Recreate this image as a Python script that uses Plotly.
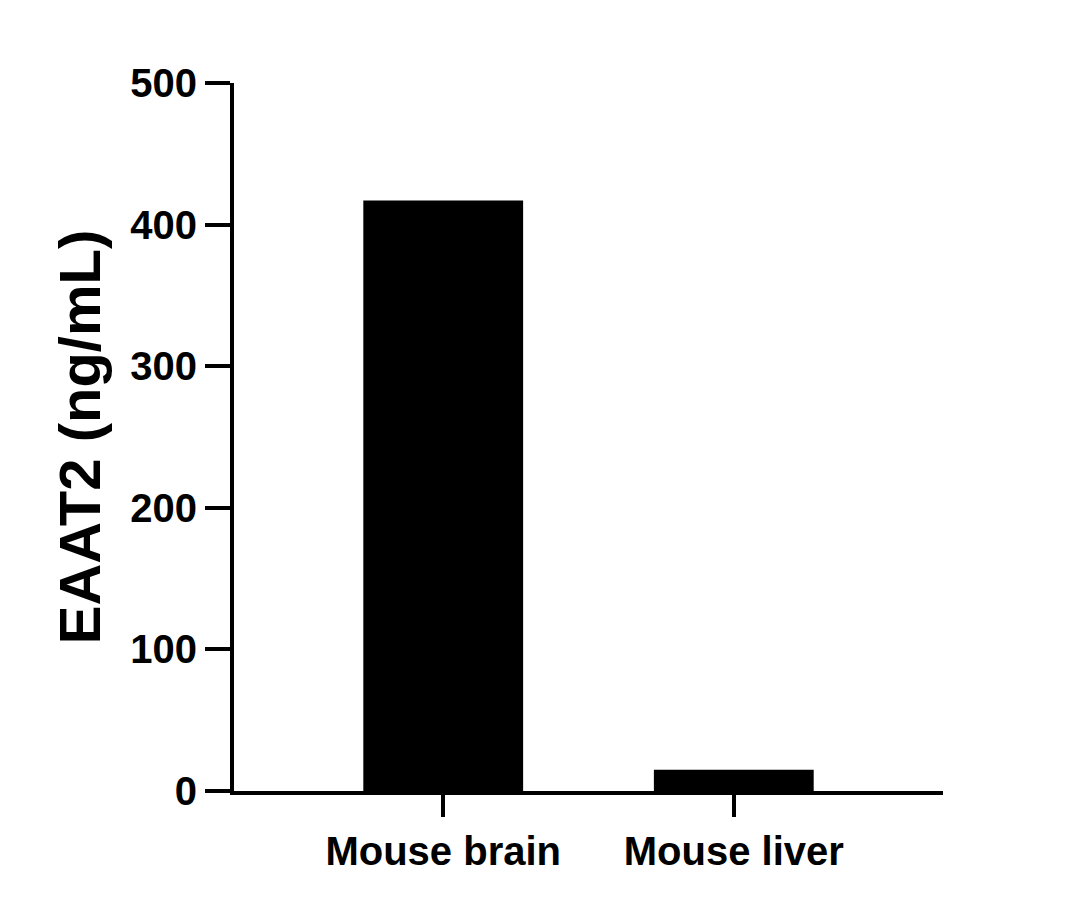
import plotly.graph_objects as go

categories = ["Mouse brain", "Mouse liver"]
values = [417, 15]
y_ticks = [0, 100, 200, 300, 400, 500]

fam = "Liberation Sans, Arial, sans-serif"
font = dict(family=fam, color="black", size=40, weight="bold")

fig = go.Figure(go.Bar(x=categories, y=values, width=0.55, marker=dict(color="black", line=dict(width=0))))
fig.update_layout(
    width=1075, height=909, paper_bgcolor="white", plot_bgcolor="white",
    margin=dict(l=226, r=140, t=75, b=126), showlegend=False, font=font,
)
fig.update_xaxes(range=[-0.72, 1.72], showline=True, linecolor="black", linewidth=4,
                 ticks="outside", ticklen=22, tickwidth=4, tickcolor="black",
                 showgrid=False, tickfont=font)
fig.update_yaxes(range=[0, 500], tickvals=y_ticks, showline=True, linecolor="black", linewidth=4,
                 ticks="outside", ticklen=25, tickwidth=4, tickcolor="black",
                 showgrid=False, zeroline=False, tickfont=font,
                 title=dict(text="EAAT2 (ng/mL)", font=dict(family=fam, size=58, color="black", weight="bold"), standoff=12))
fig.write_html("out.html")
